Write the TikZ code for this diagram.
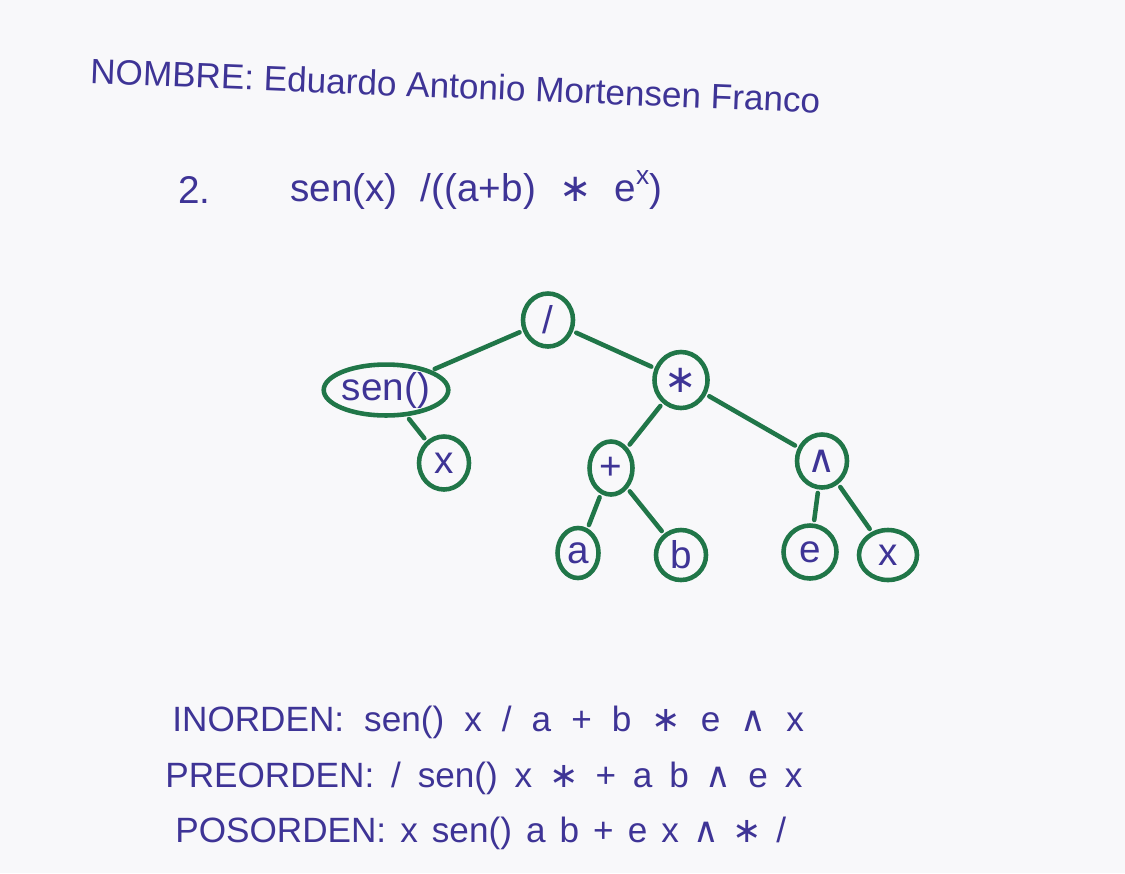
\documentclass[tikz,border=0pt]{standalone}
\usepackage{fontspec}
\setmainfont{Liberation Sans}
\newfontfamily\symfont{DejaVu Sans}
\usetikzlibrary{shapes.geometric}
\definecolor{inkblue}{RGB}{62,52,150}
\definecolor{inkgreen}{RGB}{32,118,72}
\definecolor{paper}{RGB}{248,248,250}
\newcommand\handsize[2]{\fontsize{#1}{#1}\selectfont\spaceskip #2\relax}

\begin{document}
\begin{tikzpicture}[
  leaf/.style={ellipse,draw=inkgreen,line width=2.6pt,text=inkblue,inner sep=0pt,minimum width=1.0cm,minimum height=1.06cm,font=\fontsize{22}{22}\selectfont},
  branch/.style={draw=inkgreen,line width=2.6pt,line cap=round,shorten >=2pt,shorten <=2pt},
  hand/.style={text=inkblue,anchor=west,inner sep=0pt,font=\fontsize{20}{20}\selectfont}]
\fill[paper] (0,0) rectangle (22.5,-17.46);
\useasboundingbox (0,0) rectangle (22.5,-17.46);
\node[hand,rotate=-2.3] (nombre) at (1.8,-1.42) {NOMBRE: Eduardo Antonio Mortensen Franco};
\node[hand,font=\handsize{22}{0.3em}] (num) at (3.56,-3.8) {2.};
\node[hand,font=\handsize{22}{0.6em}] (expr) at (5.8,-3.8) {sen(x) /((a+b) {\symfont∗} e\raisebox{0.8ex}{\fontsize{15}{15}\selectfont x})};
\node[leaf] (div) at (10.96,-6.40) {/};
\node[leaf,minimum width=2.34cm,minimum height=1.0cm] (sen) at (7.72,-7.80) {sen()};
\node[leaf] (x1) at (8.88,-9.26) {x};
\node[leaf,minimum width=1.06cm,minimum height=1.12cm] (mul) at (13.62,-7.60) {\symfont∗};
\node[leaf,minimum width=0.86cm] (plus) at (12.22,-9.36) {+};
\node[leaf] (pow) at (16.44,-9.22) {\symfont∧};
\node[leaf,minimum width=0.82cm,minimum height=1.0cm] (a) at (11.56,-11.06) {a};
\node[leaf,minimum height=1.0cm] (b) at (13.62,-11.10) {b};
\node[leaf,minimum width=1.06cm] (e) at (16.20,-11.04) {e};
\node[leaf,minimum width=1.16cm,minimum height=1.0cm] (x2) at (17.76,-11.10) {x};
\draw[branch] (div) -- (sen);
\draw[branch] (div) -- (mul);
\draw[branch] (sen) -- (x1);
\draw[branch] (mul) -- (plus);
\draw[branch] (mul) -- (pow);
\draw[branch] (plus) -- (a);
\draw[branch] (plus) -- (b);
\draw[branch] (pow) -- (e);
\draw[branch] (pow) -- (x2);
\node[hand,font=\handsize{20}{0.57em}] (inorden) at (3.44,-14.44) {INORDEN: sen() x / a + b {\symfont∗} e {\symfont∧} x};
\node[hand,font=\handsize{20}{0.48em}] (preorden) at (3.30,-15.56) {PREORDEN: / sen() x {\symfont∗} + a b {\symfont∧} e x};
\node[hand,font=\handsize{20}{0.4em}] (posorden) at (3.50,-16.66) {POSORDEN: x sen() a b + e x {\symfont∧} {\symfont∗} /};
\end{tikzpicture}
\end{document}
